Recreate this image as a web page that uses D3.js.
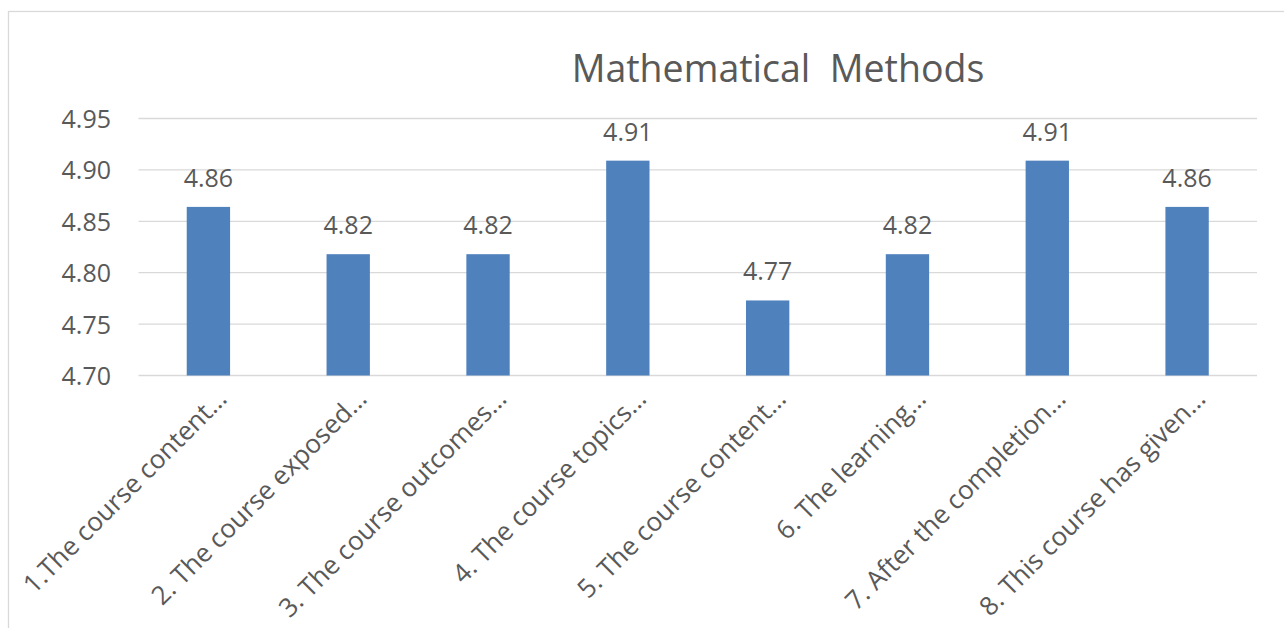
<!DOCTYPE html>
<html><head><meta charset="utf-8">
<script src="https://cdn.jsdelivr.net/npm/d3@7"></script>
<style>
html,body{margin:0;padding:0;background:#fff;}
svg text{font-family:"Open Sans","Noto Sans",sans-serif;fill:#595959;}
</style></head>
<body>
<svg id="chart" width="1284" height="628"></svg>
<script>
const titleText = "Mathematical  Methods";
const categories = [
  "1.The course content…",
  "2. The course exposed…",
  "3. The course outcomes…",
  "4. The course topics…",
  "5. The course content…",
  "6. The learning…",
  "7. After the completion…",
  "8. This course has given…"
];
const values = [4.864, 4.818, 4.818, 4.909, 4.773, 4.818, 4.909, 4.864];
const valueLabels = ["4.86","4.82","4.82","4.91","4.77","4.82","4.91","4.86"];
const yTicks = [4.70, 4.75, 4.80, 4.85, 4.90, 4.95];

const svg = d3.select("#chart");
const plot = {left: 138.5, right: 1257, top: 118.5, bottom: 375.5};

svg.append("rect").attr("x",8.5).attr("y",11.5).attr("width",1300).attr("height",700)
  .attr("fill","#fff").attr("stroke","#d9d9d9").attr("stroke-width",1.3);

const x = d3.scaleBand().domain(categories).range([plot.left, plot.right]).padding(0);
const y = d3.scaleLinear().domain([4.70, 4.95]).range([plot.bottom, plot.top]);

// gridlines
svg.append("g").selectAll("line").data(yTicks).join("line")
  .attr("x1", plot.left).attr("x2", plot.right)
  .attr("y1", d => y(d)).attr("y2", d => y(d))
  .attr("stroke", "#d9d9d9").attr("stroke-width", 1.3);

// y axis labels
const yAxis = d3.axisLeft(y).tickValues(yTicks).tickFormat(d3.format(".2f")).tickSize(0).tickPadding(0);
const ya = svg.append("g").attr("transform", `translate(111,0)`).call(yAxis);
ya.select(".domain").remove();
ya.selectAll("text").attr("font-size", 25).attr("fill","#595959")
  .attr("font-family", '"Open Sans","Noto Sans",sans-serif').attr("dy","0.36em");

// bars
const bw = x.bandwidth() * 0.31;
svg.append("g").selectAll("rect").data(values).join("rect")
  .attr("x", (d,i) => x(categories[i]) + x.bandwidth()/2 - bw/2)
  .attr("width", bw)
  .attr("y", d => y(d))
  .attr("height", d => y(4.70) - y(d))
  .attr("fill", "#4f81bd");

// value labels
svg.append("g").selectAll("text").data(values).join("text")
  .attr("x", (d,i) => x(categories[i]) + x.bandwidth()/2)
  .attr("y", d => y(d) - 20)
  .attr("text-anchor","middle").attr("font-size", 25)
  .text((d,i) => valueLabels[i]);

// x axis labels
svg.append("g").selectAll("text").data(categories).join("text")
  .attr("transform", d => `translate(${x(d) + x.bandwidth()/2 + 20},${plot.bottom + 25}) rotate(-45)`)
  .attr("text-anchor","end").attr("font-size", 26)
  .text(d => d);

// title
svg.append("text").attr("x", 778).attr("y", 82).attr("text-anchor","middle")
  .attr("font-size", 37.5).attr("xml:space","preserve").style("white-space","pre")
  .text(titleText);
</script>
</body></html>
